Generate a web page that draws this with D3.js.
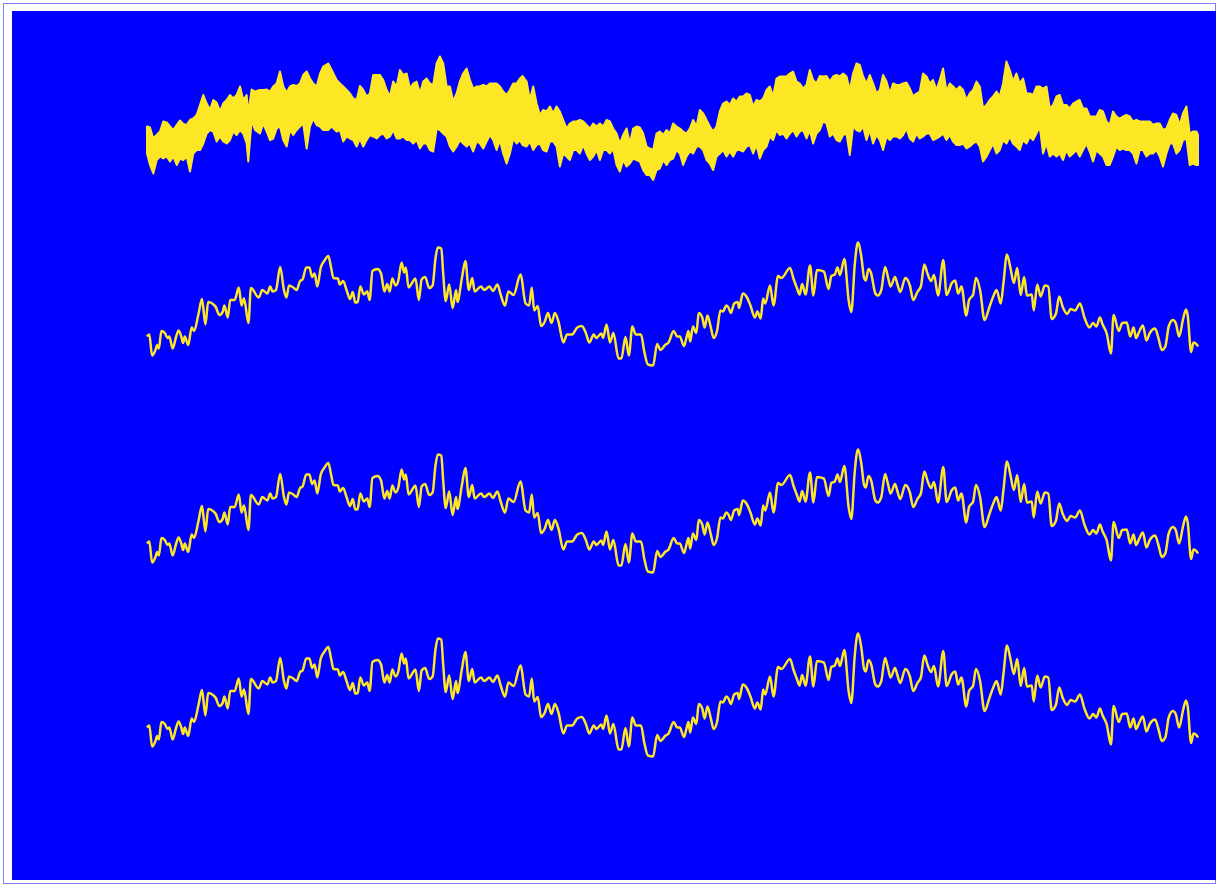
<!DOCTYPE html>
<html>
<head>
<meta charset="utf-8">
<script src="https://cdn.jsdelivr.net/npm/d3@7.9.0/dist/d3.min.js"></script>
<style>
  body { margin: 0; background: #fff; }
  svg { display: block; }
</style>
</head>
<body>
<svg id="chart" width="1219" height="887"></svg>
<script>
// raw (noisy) signal: read as upper / lower envelope of the dense trace
const rawT = [0,3,6.3,9.7,13,16.3,19.7,23,26.3,29.7,33,36.3,39.7,43,46.3,49.7,53,56.3,59.7,63,66.3,69.7,73,76.3,79.7,83,86.3,89.7,93,96.3,99.7,101.3,104.7,108,113,116.3,119.7,123,126.3,129.7,133,136.3,139.7,143,146.3,149.7,153,156.3,159.7,163,166.3,169.7,173,176.3,181.3,184.7,189.7,193,196.3,199.7,203,206.3,209.7,213,216.3,219.7,223,226.3,229.7,233,236.3,239.7,243,246.3,249.7,253,256.3,259.7,263,266.3,269.7,273,276.3,279.7,283,286.3,289.7,293,296.3,299.7,303,306.3,309.7,313,316.3,319.7,323,326.3,329.7,333,336.3,339.7,343,346.3,349.7,353,
  356.3,359.7,363,366.3,369.7,373,375.7,379.7,383,386.3,389.7,393,396.3,399.7,403,406.3,409.7,413,416.3,419.7,423,426.3,429.7,433,436.3,439.7,443,446.3,449.7,453,456.3,459.7,463,466.3,469.7,473,476.3,479.7,483,486.3,489.7,493,496.3,499.7,503,506.3,509.7,513,516.3,519.7,523,526.3,529.7,533,536.3,539.7,543,546.3,549.7,553,556.3,559.7,563,566.3,569.7,573,576.3,579.7,583,586.3,589.7,593,596.3,599.7,603,606.3,609.7,613,616.3,619.7,623,626.3,629.7,633,636.3,639.7,643,646.3,649.7,653,656.3,659.7,663,666.3,669.7,673,676.3,679.7,683,686.3,689.7,693,696.3,699.7,703,706.3,709.7,713,
  716.3,719.7,723,726.3,729.7,733,736.3,739.7,743,746.3,749.7,753,756.3,759.7,763,766.3,769.7,773,776.3,779.7,783,786.3,789.7,793,796.3,799.7,803,806.3,809.7,813,816.3,819.7,823,826.3,829.7,833,836.3,839.7,843,846.3,849.7,853,856.3,859.7,863,866.3,869.7,873,876.3,879.7,883,886.3,889.7,893,896.3,899.7,903,906.3,909.7,913,916.3,919.7,923,926.3,929.7,933,936.3,939.7,943,946.3,949.7,953,956.3,959.7,963,966.3,969.7,973,976.3,979.7,983,986.3,989.7,993,996.3,999.7,1003,1006.3,1009.7,1013,1016.3,1019.7,1023,1026.3,1029.7,1033,1036.3,1039.7,1043,1046.3,1049.7,1051.3];
const rawHigh = [-0.13,-0.15,-0.37,-0.30,-0.23,-0.03,-0.05,-0.13,-0.20,-0.10,-0.01,-0.08,-0.10,0.00,0.03,0.10,0.30,0.50,0.33,0.20,0.40,0.35,0.17,0.33,0.40,0.50,0.43,0.50,0.67,0.40,0.50,0.13,0.61,0.57,0.60,0.60,0.61,0.57,0.67,0.73,0.97,0.67,0.55,0.67,0.70,0.68,0.73,0.90,0.97,0.83,0.73,0.67,0.92,1.07,1.13,1.00,0.80,0.73,0.67,0.60,0.53,0.43,0.40,0.68,0.60,0.47,0.53,0.90,0.90,0.90,0.80,0.60,0.47,0.77,0.67,1.00,0.90,0.93,0.63,0.73,0.77,0.53,0.77,0.83,0.73,0.70,1.13,1.27,1.13,0.67,0.67,0.37,0.53,0.77,0.93,1.03,0.80,0.63,0.67,0.67,0.70,0.67,0.73,0.73,0.73,0.67,
  0.57,0.50,0.60,0.73,0.73,0.83,0.88,0.77,0.40,0.67,0.33,0.10,0.20,0.17,0.27,0.13,0.27,0.17,0.00,-0.17,-0.07,-0.03,-0.03,0.00,-0.03,-0.10,-0.17,-0.07,-0.13,-0.07,-0.13,0.00,-0.03,-0.17,-0.27,-0.47,-0.30,-0.17,-0.47,-0.17,-0.13,-0.15,-0.27,-0.53,-0.57,-0.60,-0.27,-0.23,-0.30,-0.20,-0.27,-0.07,-0.13,-0.17,-0.23,-0.27,-0.17,0.00,-0.13,0.20,0.13,0.00,-0.13,-0.23,-0.13,0.17,0.33,0.37,0.30,0.43,0.37,0.47,0.47,0.53,0.50,0.27,0.40,0.37,0.43,0.60,0.67,0.47,0.83,0.87,0.87,0.87,0.93,0.97,0.77,0.73,0.63,0.70,1.00,0.80,0.73,0.88,0.87,0.88,0.77,0.87,0.90,0.87,0.93,0.87,0.60,0.93,1.13,1.10,
  0.87,0.73,0.90,0.73,0.53,0.60,0.90,0.77,0.53,0.73,0.70,0.70,0.73,0.75,0.63,0.47,0.53,0.57,0.93,0.87,0.73,0.80,0.60,0.80,1.03,0.57,0.73,0.67,0.60,0.67,0.60,0.40,0.53,0.60,0.77,0.67,0.23,0.30,0.40,0.47,0.57,0.47,0.73,1.17,1.00,0.77,0.93,0.73,0.83,0.53,0.53,0.50,0.67,0.67,0.63,0.67,0.23,0.30,0.47,0.50,0.30,0.30,0.23,0.33,0.37,0.40,0.23,0.23,0.07,0.07,0.07,0.20,0.17,-0.03,-0.10,0.17,0.07,0.03,0.07,0.10,0.07,-0.03,0.00,-0.03,-0.03,-0.03,-0.03,-0.10,-0.07,-0.07,-0.20,-0.17,0.00,0.13,0.10,-0.10,0.13,0.27,-0.27,-0.23,-0.23,-0.30];
const rawLow = [-0.67,-0.90,-1.07,-0.80,-0.73,-0.77,-0.73,-0.83,-0.73,-0.90,-0.77,-0.80,-0.73,-1.03,-0.67,-0.60,-0.60,-0.47,-0.27,-0.20,-0.23,-0.43,-0.33,-0.43,-0.47,-0.40,-0.23,-0.30,-0.20,-0.27,-0.47,-0.83,0.00,-0.20,-0.27,-0.07,-0.23,-0.40,-0.37,-0.17,-0.13,-0.40,-0.53,-0.20,-0.30,-0.20,-0.13,-0.07,-0.57,-0.13,0.03,-0.10,-0.13,-0.20,-0.20,-0.13,-0.23,-0.20,-0.43,-0.33,-0.37,-0.40,-0.53,-0.37,-0.53,-0.40,-0.30,-0.33,-0.37,-0.30,-0.27,-0.37,-0.33,-0.20,-0.37,-0.37,-0.33,-0.40,-0.40,-0.47,-0.40,-0.57,-0.47,-0.47,-0.60,-0.63,-0.17,-0.20,-0.27,-0.33,-0.53,-0.63,-0.53,-0.40,-0.47,-0.53,-0.47,-0.63,-0.43,-0.47,-0.57,-0.43,-0.30,-0.40,-0.60,-0.40,
  -0.67,-0.87,-0.67,-0.37,-0.47,-0.40,-0.50,-0.53,-0.43,-0.60,-0.50,-0.47,-0.60,-0.63,-0.43,-0.43,-0.53,-0.93,-0.67,-0.73,-0.80,-0.60,-0.60,-0.67,-0.50,-0.67,-0.80,-0.73,-0.60,-0.80,-0.60,-0.60,-0.67,-0.57,-0.90,-1.03,-0.80,-0.93,-0.87,-0.77,-0.80,-0.83,-1.00,-1.10,-1.10,-1.20,-1.00,-0.97,-0.80,-0.90,-0.80,-0.77,-0.60,-0.67,-0.90,-0.73,-0.63,-0.67,-0.53,-0.53,-0.60,-0.80,-0.87,-1.00,-0.73,-0.67,-0.60,-0.73,-0.63,-0.73,-0.60,-0.60,-0.63,-0.53,-0.50,-0.67,-0.50,-0.77,-0.60,-0.53,-0.33,-0.40,-0.20,-0.30,-0.27,-0.37,-0.27,-0.20,-0.33,-0.23,-0.20,-0.37,-0.20,-0.47,-0.27,-0.20,-0.03,-0.07,-0.33,-0.27,-0.40,-0.43,-0.30,-0.27,-0.70,-0.13,-0.20,-0.23,
  -0.13,-0.40,-0.20,-0.47,-0.30,-0.40,-0.60,-0.33,-0.40,-0.33,-0.33,-0.37,-0.30,-0.17,-0.37,-0.43,-0.27,-0.37,-0.33,-0.27,-0.27,-0.40,-0.37,-0.33,-0.27,-0.40,-0.30,-0.43,-0.50,-0.50,-0.47,-0.57,-0.53,-0.47,-0.43,-0.53,-0.83,-0.73,-0.60,-0.47,-0.67,-0.60,-0.40,-0.47,-0.33,-0.47,-0.53,-0.60,-0.40,-0.47,-0.33,-0.40,-0.27,-0.13,-0.67,-0.47,-0.73,-0.67,-0.73,-0.67,-0.80,-0.60,-0.73,-0.67,-0.60,-0.73,-0.60,-0.47,-0.63,-0.83,-0.60,-0.67,-0.73,-0.90,-0.90,-0.73,-0.53,-0.60,-0.57,-0.60,-0.60,-0.67,-0.87,-0.60,-0.60,-0.73,-0.67,-0.67,-0.60,-0.73,-0.93,-0.67,-0.47,-0.47,-0.67,-0.60,-0.40,-0.37,-0.90,-0.87,-0.90,-0.90];

// filtered signal (the three lower traces)
const smoothT = [0,2.3,5.1,8.5,10.2,11.9,14.4,17.8,20.6,22.3,25.7,29.2,31.6,34.3,36.1,37.8,41.2,44.7,47.1,51.5,55,58.4,61.2,65.3,68.8,72.2,75.7,77.4,80.8,83.2,87.7,91.8,94.6,97,101.5,103.9,111.8,115.3,120.4,123.2,125.6,129,133.2,137,139.4,142.1,146.3,149.7,153.1,155.6,159.3,162.4,165.2,167.6,170.4,173.8,177.3,181.4,184.1,186.6,191,192.8,196.2,199.6,203.1,205.8,208.3,210.7,213.4,216.9,220.3,222.7,225.5,230.6,234.1,237.5,240.3,242.7,245.4,248.6,251.3,254.7,257.2,258.9,261.6,265.1,268.5,272,274.7,278.2,282.3,285.7,288.5,290.9,294.4,296.1,298.8,302.3,305.7,309.2,310.5,315,318.5,321.9,325.3,327.8,334,337.4,342.6,346,350.5,353.9,358.1,361.5,366.7,373.6,378.7,382.2,384.9,387.3,390.8,394.2,397.7,401.1,404.6,408,411.4,416.6,420.1,425.2,430.4,434.9,439,442.4,446.9,449.3,454.5,456.2,459.7,463.1,466.5,471.7,474.5,478.6,482,485.5,488.9,494.1,497.5,501,506.2,510.3,513.7,518.2,521.7,526.8,530.3,
  533,537.1,539.9,541.6,543.3,546.1,549.5,551.9,555.4,557.8,560.6,564,566.8,570.2,573.6,576.1,579.5,581.9,584,587.4,590.9,592.2,596,600.2,603.6,608.1,610.5,613.9,616.3,618.4,623.2,626.7,631.2,634.6,643.2,646.6,650.1,652.8,655.3,658.7,663.2,666.6,670.1,677,681.8,684.5,688,690.7,693.1,697.6,701.8,704.5,708,711.1,714.5,717.3,719,721.7,724.1,728.6,731,734.5,738.3,741.4,743.8,748.2,750.7,753.4,758.6,763.1,766.5,770.6,774.1,777.5,781,784.4,787.2,791.3,796.5,799.9,805.1,808.5,811.3,814.7,819.5,822.3,826.4,829.2,833.3,837.8,843,847.1,849.8,854,856.7,860.2,863.6,867.1,870.5,873.9,877.4,880.2,885,887,890.5,893.9,898.1,901.5,905,909.1,912.5,916,920.4,923.9,928.4,933.2,937.7,942.8,946.3,949.7,953.2,955.9,960,964.2,966.9,972.1,975.5,980,983.5,986.9,989.3,992.8,996.2,999.7,1003.1,1008.3,1011.7,1015.2,1018.6,1022,1026.2,1029,1032.4,1036.5,1039.3,1041,1044.4,1046.8,1049.6,1051.3];
const smoothV = [-0.67,-0.63,-1.05,-0.94,-0.84,-0.91,-0.56,-0.60,-0.70,-0.67,-0.91,-0.67,-0.55,-0.67,-0.80,-0.67,-0.84,-0.49,-0.56,-0.22,0.08,-0.43,0.02,-0.01,-0.08,-0.24,-0.18,-0.05,-0.29,0.06,0.06,0.31,-0.05,0.09,-0.40,0.30,0.11,0.26,0.19,0.33,0.23,0.26,0.72,0.26,0.11,0.35,0.31,0.26,0.44,0.47,0.71,0.71,0.52,0.59,0.33,0.71,0.84,0.94,0.71,0.50,0.49,0.37,0.44,0.26,0.08,0.22,0.01,0.02,0.33,0.17,0.23,0.06,0.64,0.68,0.59,0.23,0.38,0.23,0.49,0.35,0.44,0.81,0.61,0.71,0.31,0.40,0.49,0.06,0.47,0.52,0.30,0.35,0.88,1.11,1.09,0.64,0.04,0.37,-0.10,0.26,0.02,0.50,0.84,0.26,0.50,0.23,0.33,0.26,0.33,0.24,0.37,0.16,-0.05,0.23,0.16,0.57,-0.01,-0.05,0.31,-0.15,-0.06,-0.46,-0.38,-0.20,-0.40,-0.20,-0.36,-0.79,-0.63,-0.63,-0.49,-0.46,-0.60,-0.79,-0.63,-0.70,-0.61,-0.70,-0.43,-0.79,-0.60,-1.11,-1.11,-0.68,-1.05,-0.47,-0.63,-0.63,-0.98,-1.23,-1.25,-0.82,-0.94,-0.84,-0.79,-0.56,-0.67,
  -0.67,-0.86,-0.67,-0.56,-0.77,-0.47,-0.60,-0.20,-0.29,-0.49,-0.25,-0.49,-0.70,-0.56,-0.15,-0.17,-0.05,-0.10,-0.20,-0.01,0.02,-0.10,0.19,0.11,-0.05,-0.29,-0.17,-0.31,0.09,-0.01,0.35,-0.05,0.54,0.50,0.70,0.49,0.30,0.17,0.38,0.17,0.75,0.15,0.66,0.63,0.28,0.54,0.57,0.71,0.56,0.88,0.06,-0.18,0.78,1.21,0.93,0.50,0.45,0.68,0.61,0.19,0.15,0.26,0.72,0.50,0.33,0.52,0.37,0.22,0.50,0.35,0.06,0.22,0.33,0.77,0.57,0.44,0.56,0.15,0.86,0.16,0.40,0.45,0.19,0.33,-0.25,0.06,0.17,0.50,0.26,-0.34,-0.06,0.16,0.26,-0.01,0.40,0.97,0.71,0.40,0.70,0.16,0.52,0.15,0.17,-0.15,0.37,0.13,0.35,0.33,-0.32,-0.22,0.13,-0.08,-0.22,-0.12,-0.15,-0.01,-0.29,-0.49,-0.40,-0.47,-0.29,-0.43,-0.61,-1.01,-0.24,-0.56,-0.40,-0.39,-0.67,-0.49,-0.70,-0.56,-0.45,-0.75,-0.60,-0.51,-0.70,-0.94,-0.87,-0.47,-0.34,-0.40,-0.67,-0.31,-0.13,-0.25,-0.98,-0.79,-0.82,-0.87];

const W = 1219, H = 887;
const yellow = '#fde725';

const raw = rawT.map((t, i) => ({ t, hi: rawHigh[i], lo: rawLow[i] }));
const smooth = smoothT.map((t, i) => ({ t, v: smoothV[i] }));

const svg = d3.select('#chart');

// outer frame + blue plot face
svg.append('rect')
  .attr('x', 3.5).attr('y', 3.5)
  .attr('width', W - 7).attr('height', H - 7)
  .attr('fill', '#fff')
  .attr('stroke', '#8080ff');
svg.append('rect')
  .attr('x', 12).attr('y', 11)
  .attr('width', 1204).attr('height', 869)
  .attr('fill', '#0000ff');

const x = d3.scaleLinear().domain([0, 1051.3]).range([147, 1198]);

// one y scale per stacked trace (centre pixel of each row)
const rowCentres = [120, 303, 510, 694];
const yFor = (c) => d3.scaleLinear().domain([-1.5, 1.5]).range([c + 75, c - 75]);

// row 1: noisy trace, drawn as its dense envelope
const y0 = yFor(rowCentres[0]);
svg.append('path')
  .datum(raw)
  .attr('d', d3.area().x(d => x(d.t)).y0(d => y0(d.lo)).y1(d => y0(d.hi)))
  .attr('fill', yellow)
  .attr('stroke', yellow)
  .attr('stroke-width', 2)
  .attr('stroke-linejoin', 'round');

// rows 2-4: filtered trace
rowCentres.slice(1).forEach((c) => {
  const y = yFor(c);
  svg.append('path')
    .datum(smooth)
    .attr('d', d3.line().x(d => x(d.t)).y(d => y(d.v)).curve(d3.curveMonotoneX))
    .attr('fill', 'none')
    .attr('stroke', yellow)
    .attr('stroke-width', 2.5)
    .attr('stroke-linejoin', 'round');
});
</script>
</body>
</html>
